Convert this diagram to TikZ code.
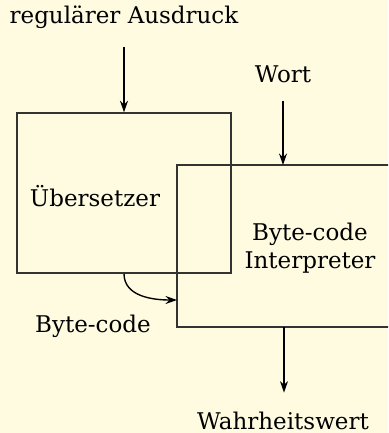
\documentclass[tikz,border=0pt]{standalone}
\usepackage{fontspec}
\setmainfont{DejaVu Serif}
\usepackage{xcolor}
\usetikzlibrary{arrows.meta,positioning}
\definecolor{papier}{HTML}{FEFBE1}
\tikzset{
  kasten/.style={draw=black!80,line width=0.6pt,inner sep=0pt},
  pfeil/.style={line width=0.55pt,-{Stealth[length=4.6pt,width=3.2pt]}},
  beschr/.style={font=\fontsize{9.2}{11.2}\selectfont,inner sep=0pt,align=center}
}
\begin{document}
\begin{tikzpicture}[x=0.4pt,y=-0.4pt]
  \fill[papier] (0,0) rectangle (388,433);
  \useasboundingbox (0,0) rectangle (388,433);
  \clip (0,0) rectangle (388,433);
  % Kaesten
  \node[kasten,minimum width=85.6pt,minimum height=64pt] (ue) at (124,193) {};
  \node[kasten,minimum width=96pt,minimum height=64.8pt] (bi) at (297,246) {};
  \node[beschr] (uetext) at (95,196) {Übersetzer};
  \node[beschr] (bitext) at (310,248) {Byte-code\\Interpreter};
  % Ein- und Ausgaben
  \node[beschr] (ra) at (124,17) {regulärer Ausdruck};
  \node[beschr] (wort) at (283,74) {Wort};
  \node[beschr] (bc) at (93,326) {Byte-code};
  \node[beschr] (ww) at (283,421) {Wahrheitswert};
  \coordinate (wort-ein) at (283,165);
  \coordinate (bc-ende) at (177,300);
  \coordinate (ww-aus) at (284,327);
  \draw[pfeil,shorten <=7.2pt] (ra.south) -- (ue.north);
  \draw[pfeil,shorten <=7.2pt] (wort.south) -- (wort-ein);
  \draw[pfeil,shorten >=7.6pt] (ww-aus) -- (ww-aus |- ww.north);
  \draw[pfeil] (ue.south) to[out=-90,in=180] (bc-ende);
\end{tikzpicture}
\end{document}
